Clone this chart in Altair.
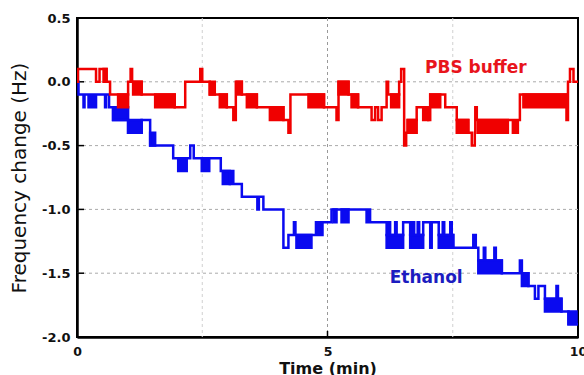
import altair as alt
import pandas as pd

# ---- data ----
pbs_t = [0.00, 0.02, 0.38, 0.45, 0.59, 0.66, 1.02, 1.07, 1.10, 1.29, 1.95, 2.16, 2.46, 2.50,
         2.65, 2.99, 3.12, 3.17, 3.29, 3.59, 4.12, 4.22, 4.26, 4.93, 5.18, 5.22, 5.42, 5.61,
         5.88, 5.95, 6.01, 6.08, 6.18, 6.21, 6.43, 6.47, 6.53, 6.57, 6.60, 6.78, 7.01, 7.05,
         7.35, 7.58, 7.81, 7.88, 7.94, 7.95, 7.98, 8.70, 8.73, 8.78, 8.80, 8.84, 9.77, 9.80,
         9.84, 9.91, 10.0]
pbs_v = [0.0, 0.1, 0.0, 0.1, 0.0, -0.1, 0.0, 0.1, 0.0, -0.1, -0.2, 0.0, 0.1, 0.0,
         -0.1, -0.2, -0.3, 0.0, -0.1, -0.2, -0.3, -0.4, -0.1, -0.2, -0.3, 0.0, -0.1, -0.2,
         -0.3, -0.2, -0.3, -0.2, 0.0, -0.1, 0.0, 0.1, -0.5, -0.4, -0.3, -0.2, -0.3, -0.1,
         -0.2, -0.3, -0.4, -0.5, -0.4, -0.2, -0.3, -0.4, -0.3, -0.4, -0.3, -0.1, -0.3, 0.0,
         0.1, 0.0, 0.0]

eth_t = [0.00, 0.03, 0.13, 0.15, 0.23, 0.25, 0.29, 0.31, 0.36, 0.38, 0.56, 0.58, 0.64, 0.72,
         1.02, 1.29, 1.46, 1.92, 2.26, 2.33, 2.87, 3.05, 3.09, 3.12, 3.29, 3.60, 3.63, 3.72,
         4.12, 4.22, 4.33, 4.36, 4.77, 4.79, 4.82, 4.86, 4.90, 5.08, 5.78, 5.82, 5.85, 6.18,
         6.22, 6.25, 6.35, 6.38, 6.51, 6.65, 6.70, 6.73, 6.80, 6.83, 6.91, 7.05, 7.08, 7.22,
         7.30, 7.33, 7.45, 7.48, 7.51, 7.91, 7.96, 8.01, 8.12, 8.15, 8.33, 8.36, 8.48, 8.84,
         8.88, 9.01, 9.14, 9.21, 9.34, 9.57, 9.60, 9.67, 9.81, 10.0]
eth_v = [0.0, -0.1, -0.2, -0.1, -0.2, -0.1, -0.2, -0.1, -0.2, -0.1, -0.2, -0.1, -0.2, -0.3,
         -0.4, -0.3, -0.5, -0.6, -0.5, -0.6, -0.7, -0.8, -0.7, -0.8, -0.9, -1.0, -0.9, -1.0,
         -1.3, -1.2, -1.1, -1.2, -1.1, -1.2, -1.1, -1.2, -1.1, -1.0, -1.1, -1.0, -1.1, -1.2,
         -1.1, -1.2, -1.1, -1.2, -1.1, -1.2, -1.1, -1.2, -1.1, -1.2, -1.1, -1.3, -1.1, -1.2,
         -1.1, -1.2, -1.1, -1.2, -1.3, -1.2, -1.3, -1.4, -1.3, -1.4, -1.3, -1.4, -1.5, -1.4,
         -1.5, -1.6, -1.7, -1.6, -1.7, -1.6, -1.7, -1.8, -1.9, -1.9]

# rapid toggling between two levels (start, end, upper level, lower level)
pbs_blk_t0 = [0.53, 0.82, 1.12, 1.56, 2.65, 2.85, 3.19, 3.39, 3.85, 4.62, 5.22, 5.48, 6.27, 6.60, 6.91, 7.05, 7.58, 8.00, 8.91]
pbs_blk_t1 = [0.59, 1.02, 1.29, 1.95, 2.75, 2.99, 3.29, 3.59, 4.12, 4.93, 5.42, 5.61, 6.43, 6.78, 7.01, 7.25, 7.81, 8.60, 9.77]
pbs_blk_hi = [0.1, -0.1, 0.0, -0.1, 0.0, -0.1, 0.0, -0.1, -0.2, -0.1, 0.0, -0.1, -0.1, -0.3, -0.2, -0.1, -0.3, -0.3, -0.1]
pbs_blk_lo = [0.0, -0.2, -0.1, -0.2, -0.1, -0.2, -0.1, -0.2, -0.3, -0.2, -0.1, -0.2, -0.2, -0.4, -0.3, -0.2, -0.4, -0.4, -0.2]

eth_blk_t0 = [0.72, 1.02, 1.46, 2.02, 2.49, 2.91, 4.38, 5.12, 5.28, 6.18, 6.65, 7.22, 8.01, 8.88, 9.34, 9.81]
eth_blk_t1 = [1.02, 1.29, 1.56, 2.19, 2.64, 3.05, 4.68, 5.18, 5.42, 6.51, 6.91, 7.51, 8.48, 9.01, 9.67, 9.97]
eth_blk_hi = [-0.2, -0.3, -0.4, -0.6, -0.6, -0.7, -1.2, -1.0, -1.0, -1.2, -1.2, -1.2, -1.4, -1.5, -1.7, -1.8]
eth_blk_lo = [-0.3, -0.4, -0.5, -0.7, -0.7, -0.8, -1.3, -1.1, -1.1, -1.3, -1.3, -1.3, -1.5, -1.6, -1.8, -1.9]

y_ticks = [0.5, 0.0, -0.5, -1.0, -1.5, -2.0]
x_labels = [0, 5, 10]
y_grid = [0.0, -0.5, -1.0, -1.5]
x_grid_major = [5]
x_grid_minor = [2.5, 7.5]
x_inner_ticks = [5]

series_labels = ["PBS buffer", "Ethanol"]
label_t = [7.96, 6.97]
label_v = [0.11, -1.54]

RED = "#f00000"
BLUE = "#0a0af0"

W, H = 501, 319

pbs = pd.DataFrame({"t": pbs_t, "v": pbs_v})
eth = pd.DataFrame({"t": eth_t, "v": eth_v})
pbs_b = pd.DataFrame({"t0": pbs_blk_t0, "t1": pbs_blk_t1, "hi": pbs_blk_hi, "lo": pbs_blk_lo})
eth_b = pd.DataFrame({"t0": eth_blk_t0, "t1": eth_blk_t1, "hi": eth_blk_hi, "lo": eth_blk_lo})

xs = alt.Scale(domain=[0, 10], nice=False, zero=False)
ys = alt.Scale(domain=[-2.0, 0.5], nice=False, zero=False)

x_axis = alt.Axis(values=x_labels, title="Time (min)", grid=False, ticks=False,
                  labelFont="DejaVu Sans", labelFontWeight="bold", labelFontSize=12.5,
                  labelColor="#111", labelPadding=8, labelFlush=False,
                  titleFont="DejaVu Sans", titleFontWeight="bold", titleFontSize=16,
                  titleColor="#111", titlePadding=3,
                  domainColor="black", domainWidth=2.5)
y_axis = alt.Axis(values=y_ticks, title="Frequency change (Hz)", grid=False, ticks=False,
                  labelExpr="replace(format(datum.value, '.1f'), '\u2212', '-')",
                  labelFont="DejaVu Sans", labelFontWeight="bold", labelFontSize=13,
                  labelColor="#111", labelPadding=7, labelFlush=False,
                  titleFont="DejaVu Sans", titleFontWeight="normal", titleFontSize=20,
                  titleColor="#111", titlePadding=12,
                  domainColor="black", domainWidth=2.5)

hgrid = alt.Chart(pd.DataFrame({"y": y_grid})).mark_rule(
    color="#aaaaaa", strokeWidth=1, strokeDash=[3, 3]
).encode(y=alt.Y("y:Q", scale=ys, axis=y_axis))

vgrid_major = alt.Chart(pd.DataFrame({"x": x_grid_major})).mark_rule(
    color="#999999", strokeWidth=1, strokeDash=[3, 3]
).encode(x=alt.X("x:Q", scale=xs, axis=x_axis))

vgrid_minor = alt.Chart(pd.DataFrame({"x": x_grid_minor})).mark_rule(
    color="#d0d0d0", strokeWidth=1, strokeDash=[3, 3]
).encode(x=alt.X("x:Q", scale=xs))

left_ticks = alt.Chart(pd.DataFrame({"y": y_ticks})).mark_rule(
    color="black", strokeWidth=1.5
).encode(y=alt.Y("y:Q", scale=ys), x=alt.value(0), x2=alt.value(7))

bottom_ticks = alt.Chart(pd.DataFrame({"x": x_inner_ticks})).mark_rule(
    color="black", strokeWidth=1.5
).encode(x=alt.X("x:Q", scale=xs), y=alt.value(H), y2=alt.value(H - 6))


def blocks(df, color):
    return alt.Chart(df).mark_rect(color=color, stroke=color, strokeWidth=2.5).encode(
        x=alt.X("t0:Q", scale=xs), x2="t1:Q",
        y=alt.Y("hi:Q", scale=ys), y2="lo:Q")


def trace(df, color):
    return alt.Chart(df).mark_line(
        color=color, strokeWidth=2.5, interpolate="step-after", clip=True
    ).encode(x=alt.X("t:Q", scale=xs), y=alt.Y("v:Q", scale=ys))


lab_pbs = alt.Chart(pd.DataFrame({"t": [label_t[0]], "v": [label_v[0]], "s": [series_labels[0]]})).mark_text(
    font="DejaVu Sans", fontWeight="bold", fontSize=17, color="#e8141c"
).encode(x=alt.X("t:Q", scale=xs), y=alt.Y("v:Q", scale=ys), text="s:N")

lab_eth = alt.Chart(pd.DataFrame({"t": [label_t[1]], "v": [label_v[1]], "s": [series_labels[1]]})).mark_text(
    font="DejaVu Sans", fontWeight="bold", fontSize=17, color="#1c1cc0"
).encode(x=alt.X("t:Q", scale=xs), y=alt.Y("v:Q", scale=ys), text="s:N")

chart = alt.layer(
    hgrid, vgrid_major, vgrid_minor, left_ticks, bottom_ticks,
    blocks(eth_b, BLUE), trace(eth, BLUE),
    blocks(pbs_b, RED), trace(pbs, RED),
    lab_pbs, lab_eth,
).properties(
    width=W, height=H,
    autosize=alt.AutoSizeParams(type="none"),
    padding={"left": 77, "top": 18, "right": 6, "bottom": 38},
    background="white",
).configure_view(stroke="black", strokeWidth=2)

chart.save("out.html", embed_options={"renderer": "svg", "actions": False})
